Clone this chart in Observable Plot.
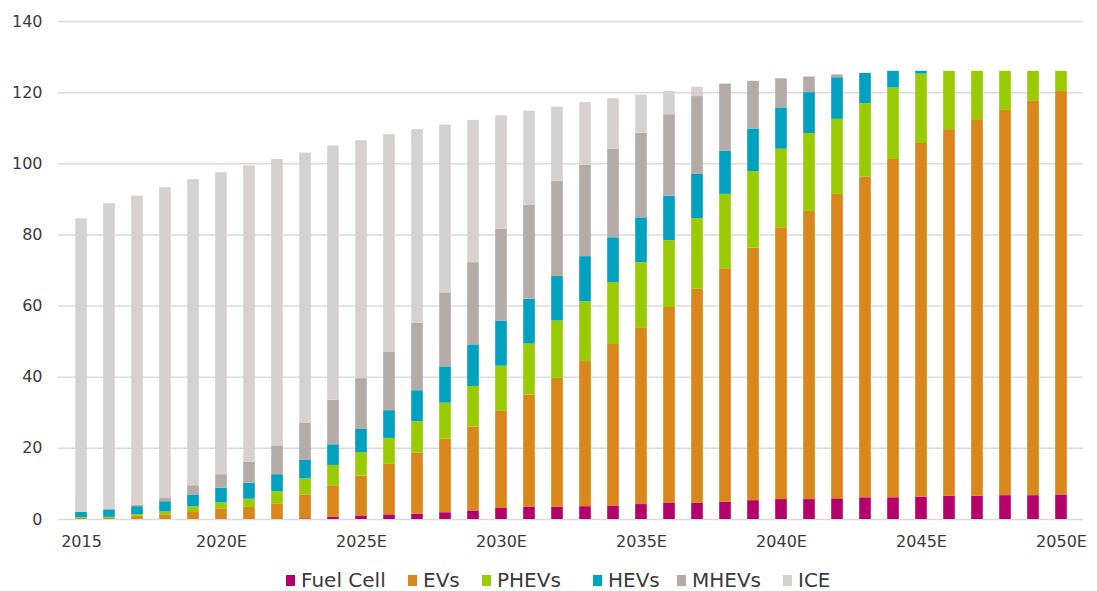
<!DOCTYPE html>
<html>
<head>
<meta charset="utf-8">
<script src="https://cdn.jsdelivr.net/npm/d3@7"></script>
<script src="https://cdn.jsdelivr.net/npm/@observablehq/plot@0.6"></script>
<style>
  html, body { margin: 0; padding: 0; background: #ffffff; }
  body { width: 1097px; height: 591px; overflow: hidden; position: relative; font-family: "DejaVu Sans", Verdana, sans-serif; }
  #legend { position: absolute; left: 0; top: 568px; width: 1097px; height: 24px; font-size: 20px; color: #3a3a3a; }
  .item { position: absolute; top: 0; height: 24px; display: flex; align-items: center; white-space: nowrap; }
  .sw { width: 9px; height: 11px; margin-right: 6px; }
</style>
</head>
<body>
<div id="chart"></div>
<div id="legend"></div>
<script>
const years = [2015,2016,2017,2018,2019,2020,2021,2022,2023,2024,2025,2026,2027,2028,2029,2030,2031,2032,2033,2034,2035,2036,2037,2038,2039,2040,2041,2042,2043,2044,2045,2046,2047,2048,2049,2050];
const types = ["Fuel Cell","EVs","PHEVs","HEVs","MHEVs","ICE"];
const colors = ["#b5006b","#d9861a","#99cc00","#00a2bf","#b5aba6","#d6d1ce"];

const fuelCell = [0,0,0,0,0,0,0,0,0.2,0.7,1.0,1.3,1.5,1.9,2.4,3.1,3.4,3.4,3.6,3.8,4.2,4.5,4.6,4.9,5.3,5.6,5.6,5.8,6.1,6.1,6.3,6.5,6.5,6.7,6.7,6.9];
const evs = [0.3,0.3,0.9,1.3,2.2,3.0,3.4,4.4,6.7,8.8,11.2,14.2,17.2,20.7,23.6,27.3,31.6,36.3,40.8,45.4,49.7,55.1,60.1,65.6,71.0,76.4,81.0,85.6,90.1,95.1,99.4,103.1,105.9,108.3,111.0,113.4];
const phevs = [0.2,0.3,0.5,0.8,1.4,1.7,2.3,3.4,4.5,5.7,6.6,7.3,8.8,10.1,11.4,12.7,14.3,16.1,16.8,17.4,18.3,18.8,19.9,20.9,21.5,22.1,21.9,21.1,20.7,20.1,19.5,16.4,13.6,11.0,8.3,5.7];
const hevs = [1.5,2.1,2.2,2.9,3.3,4.1,4.5,4.8,5.2,5.8,6.5,7.8,8.7,10.2,11.7,12.7,12.6,12.5,12.7,12.6,12.6,12.5,12.4,12.1,12.0,11.6,11.5,11.7,8.5,4.7,0.8,0,0,0,0,0];
const mhevs = [0,0.1,0.4,0.9,2.6,3.8,5.9,8.1,10.4,12.5,14.3,16.5,19.0,20.8,23.1,25.8,26.5,26.7,25.7,24.9,23.8,22.9,21.9,18.9,13.4,8.2,4.4,0.8,0,0,0,0,0,0,0,0];
const ice = [82.5,86.0,86.9,87.4,86.0,84.9,83.3,80.5,76.0,71.5,66.9,61.1,54.4,47.2,40.0,31.9,26.4,20.9,17.6,14.2,10.7,6.5,2.6,0,0,0,0,0,0,0,0,0,0,0,0,0];

const yTicks = [0,20,40,60,80,100,120,140];
const xTicks = [2015,2020,2025,2030,2035,2040,2045,2050];
const xLabels = ["2015","2020E","2025E","2030E","2035E","2040E","2045E","2050E"];

const series = [fuelCell, evs, phevs, hevs, mhevs, ice];
const rows = [];
years.forEach((yr, i) => {
  types.forEach((t, k) => rows.push({year: yr, type: t, value: series[k][i]}));
});
const labelMap = new Map(xTicks.map((d, i) => [d, xLabels[i]]));

const chart = Plot.plot({
  width: 1097,
  height: 556,
  marginLeft: 58,
  marginRight: 14,
  marginTop: 21,
  marginBottom: 37,
  style: {fontFamily: '"DejaVu Sans", Verdana, sans-serif', fontSize: "16px", color: "#3a3a3a", background: "#ffffff"},
  x: {type: "band", domain: years, padding: 0, axis: null},
  y: {domain: [0, 140], axis: null},
  color: {domain: types, range: colors},
  marks: [
    Plot.gridY(yTicks, {stroke: "#dcdcdc", strokeOpacity: 1, strokeWidth: 1.5}),
    Plot.barY(rows, {x: "year", y: "value", fill: "type", order: types, insetLeft: 8.2, insetRight: 8.2}),
    Plot.axisY(yTicks, {tickSize: 0, tickPadding: 16, fill: "#3a3a3a", label: null}),
    Plot.axisX(xTicks, {tickSize: 0, tickPadding: 16, fill: "#3a3a3a", label: null, tickFormat: d => labelMap.get(d)})
  ]
});
document.getElementById("chart").appendChild(chart);

// legend entry left edges
const legendLeft = [286, 408, 482, 593, 677, 783];
const legend = d3.select("#legend");
types.forEach((t, k) => {
  const it = legend.append("div").attr("class", "item").style("left", legendLeft[k] + "px");
  it.append("div").attr("class", "sw").style("background", colors[k]);
  it.append("span").text(t);
});
</script>
</body>
</html>
